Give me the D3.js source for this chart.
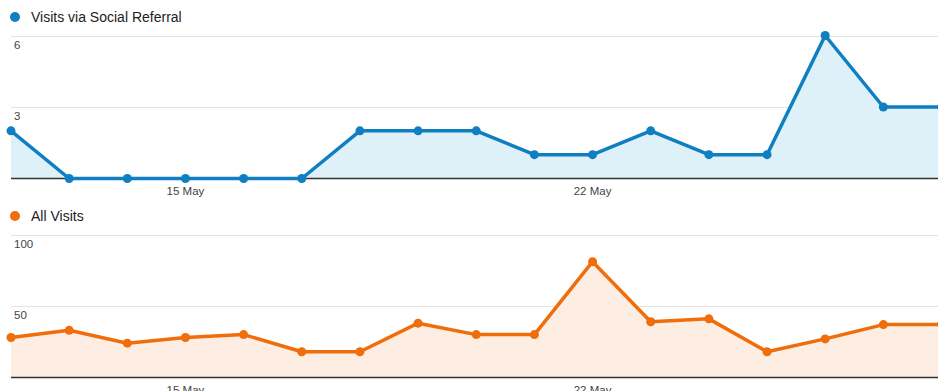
<!DOCTYPE html>
<html><head><meta charset="utf-8">
<script src="https://cdn.jsdelivr.net/npm/d3@7"></script>
<style>
html,body{margin:0;padding:0;background:#fff;overflow:hidden}
svg{display:block;font-family:"Liberation Sans",Arial,sans-serif}
</style></head><body>
<svg id="c" width="938" height="391"></svg>
<script>
const dates = ["12 May","13 May","14 May","15 May","16 May","17 May","18 May","19 May","20 May","21 May","22 May","23 May","24 May","25 May","26 May","27 May","28 May"];
const socialVisits = [2,0,0,0,0,0,2,2,2,1,1,2,1,1,6,3,3];
const allVisits = [28,33,24,28,30,18,18,38,30,30,81,39,41,18,27,37,37];
const socialTicks = [3,6];
const allTicks = [50,100];
const xTickLabels = ["15 May","22 May"];

const svg = d3.select("#c");
const x = d3.scalePoint().domain(dates).range([11, 941.5]);

function panel(cfg){
  const g = svg.append("g");
  const y = d3.scaleLinear().domain([0, cfg.max]).range([cfg.bottom, cfg.top]);
  // legend
  g.append("circle").attr("cx",15).attr("cy",cfg.legendY).attr("r",5).attr("fill",cfg.color);
  g.append("text").attr("x",31).attr("y",cfg.legendY+5).attr("font-size",14).attr("fill","#222").text(cfg.name);
  // grid
  g.selectAll(".grid").data(cfg.ticks).join("line")
    .attr("x1",11).attr("x2",938).attr("y1",d=>Math.round(y(d))+0.5).attr("y2",d=>Math.round(y(d))+0.5)
    .attr("stroke","#e3e3e3").attr("stroke-width",1);
  g.selectAll(".yl").data(cfg.ticks).join("text")
    .attr("x",14).attr("y",d=>y(d)+13).attr("font-size",11.5).attr("fill","#444").text(d=>d);
  // area
  const area = d3.area().x((d,i)=>x(dates[i])).y0(y(0)).y1(d=>y(d));
  g.append("path").datum(cfg.values).attr("d",area).attr("fill",cfg.fill);
  // baseline
  g.append("line").attr("x1",11).attr("x2",938).attr("y1",y(0)).attr("y2",y(0)).attr("stroke","#333").attr("stroke-width",1.3);
  // line
  const line = d3.line().x((d,i)=>x(dates[i])).y(d=>y(d));
  g.append("path").datum(cfg.values).attr("d",line).attr("fill","none")
    .attr("stroke",cfg.color).attr("stroke-width",3.5).attr("stroke-linejoin","round");
  g.selectAll(".pt").data(cfg.values).join("circle")
    .attr("cx",(d,i)=>x(dates[i])).attr("cy",d=>y(d)).attr("r",4.5).attr("fill",cfg.color);
  // x labels
  g.selectAll(".xl").data(xTickLabels).join("text")
    .attr("x",d=>x(d)).attr("y",y(0)+16).attr("text-anchor","middle")
    .attr("font-size",11.5).attr("fill","#444").text(d=>d);
}

panel({name:"Visits via Social Referral", values:socialVisits, ticks:socialTicks, max:6,
  top:35.5, bottom:178.5, legendY:17, color:"#0f7fc2", fill:"#def0f8"});
panel({name:"All Visits", values:allVisits, ticks:allTicks, max:100,
  top:234.5, bottom:377.5, legendY:216, color:"#f06d0c", fill:"#fdede2"});
</script>
</body></html>
